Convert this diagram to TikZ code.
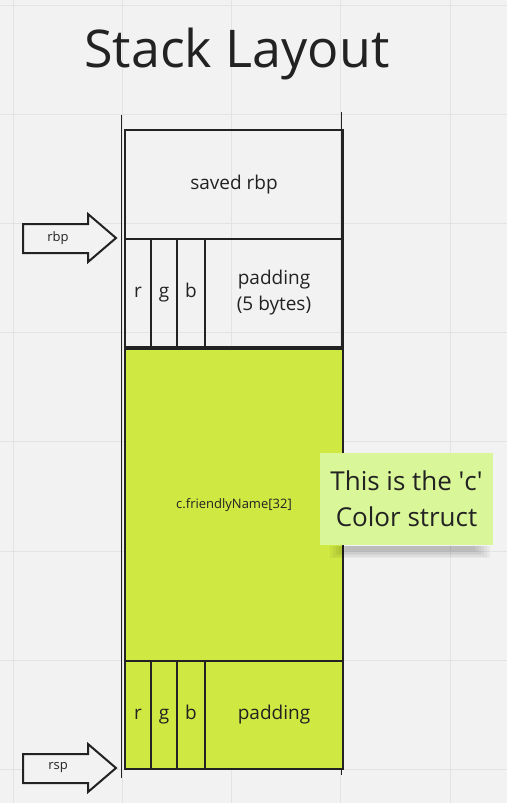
\documentclass[tikz,border=0pt]{standalone}
\usepackage{fontspec}
\setmainfont{Open Sans}
\definecolor{bg}{HTML}{F2F2F2}
\definecolor{gridline}{HTML}{E3E3E3}
\definecolor{ink}{HTML}{222222}
\definecolor{lime}{HTML}{CFE842}
\definecolor{sticky}{HTML}{D9F698}
\tikzset{
  cell/.style={draw=ink,line width=2pt,inner sep=0pt,anchor=north west,align=center,
    text=ink,font=\fontsize{19}{26}\selectfont},
  byte/.style={cell,minimum height=108,text height=14pt,text depth=5pt},
  ptr/.style={draw=ink,line width=2pt,fill=bg}
}

\begin{document}
\begin{tikzpicture}[x=1pt,y=-1pt]
            \fill[bg] (0,0) rectangle (507,803);
            \useasboundingbox (0,0) rectangle (507,803);
            % grid
            \foreach \i in {0,...,4}{
                \draw[gridline,line width=1pt] (13+109.3*\i,0)--(13+109.3*\i,803);
            }
            \foreach \i in {0,...,7}{
                \draw[gridline,line width=1pt] (0,5+109.2*\i)--(507,5+109.2*\i);
            }
            \node[text=ink,font=\fontsize{52}{60}\selectfont,anchor=base] (title) at (237,67) {Stack Layout};
            % frame lines
            \draw[ink,line width=1pt] (121,115)--(121,778);
            \draw[ink,line width=1pt] (341.5,112)--(341.5,775);
            % upper part
            \node[cell,minimum width=218,minimum height=109] (saved) at (124,129) {saved rbp};
            \node[byte,minimum width=26] (r1) at (124,238) {r};
            \node[byte,minimum width=26] (g1) at (150,238) {g};
            \node[byte,minimum width=28] (b1) at (176,238) {b};
            \node[cell,minimum width=138,minimum height=108] (pad1) at (204,238) {padding\\(5 bytes)};
            % struct c
            \node[cell,fill=lime,minimum width=218,minimum height=312,font=\fontsize{13}{16}\selectfont] (name) at (124,348) {c.friendlyName[32]};
            \node[byte,fill=lime,minimum width=26] (r2) at (124,660) {r};
            \node[byte,fill=lime,minimum width=26] (g2) at (150,660) {g};
            \node[byte,fill=lime,minimum width=28] (b2) at (176,660) {b};
            \node[byte,fill=lime,minimum width=138] (pad2) at (204,660) {padding};
            % pointers
            \foreach \y/\t in {238/rbp,768/rsp}{
                \draw[ptr] (23,\y-14)--(88,\y-14)--(88,\y-24)--(116,\y)--(88,\y+24)--(88,\y+15)--(23,\y+15)--cycle;
                \node[text=ink,font=\fontsize{13}{16}\selectfont] (\t) at (58,\y) {\t};
            }
            % sticky note
            \foreach \d in {0,...,5}{
                \fill[black,opacity=0.04] (330+3*\d,546) rectangle (490-3*\d,558-1.5*\d);
            }
            \node[fill=sticky,minimum width=173,minimum height=92,inner sep=0pt,align=center,text=ink,
                font=\fontsize{26}{36}\selectfont] (note) at (406.5,499) {This is the \textquotesingle c\textquotesingle\\Color struct};
        \end{tikzpicture}
\end{document}
